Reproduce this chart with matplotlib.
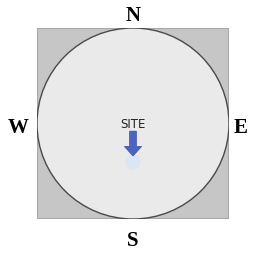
import matplotlib
matplotlib.use("Agg")
import matplotlib.pyplot as plt
from matplotlib.patches import Circle, Rectangle, FancyArrow
import numpy as np

labels = ["N", "E", "S", "W"]
label_x = [0.0, 1.12, 0.0, -1.20]
label_y = [1.13, -0.05, -1.23, -0.05]
site_label = "SITE"
arrow_direction_deg = 270  # arrow pointing south
arrow_length = 0.26

fig = plt.figure(figsize=(2.54, 2.57), dpi=100)
ax = fig.add_axes([37/254, 38/257, 192/254, 191/257])
ax.set_xlim(-1, 1)
ax.set_ylim(-1, 1)
ax.axis("off")

ax.add_patch(Rectangle((-1, -1), 2, 2, facecolor="#c6c6c6", edgecolor="#a8a8a8", lw=1.5, zorder=1))
ax.add_patch(Circle((0, 0), 1.0, facecolor="#eaeaea", edgecolor="#4a4a4a", lw=1.0, zorder=2))

for lab, x, y in zip(labels, label_x, label_y):
    ax.text(x, y, lab, ha="center", va="center",
            fontsize=15, fontweight="bold", family="Liberation Serif", color="black",
            clip_on=False)

ax.text(0, -0.01, site_label, ha="center", va="center", fontsize=8.5,
        family="Liberation Sans Narrow", color="#222222", zorder=4)

dx = arrow_length * np.cos(np.radians(arrow_direction_deg))
dy = arrow_length * np.sin(np.radians(arrow_direction_deg))
ax.add_patch(Circle((0, -0.4), 0.08, facecolor="#d8e6f5", edgecolor="none", alpha=0.8, zorder=3))
ax.add_patch(FancyArrow(0, -0.08, dx, dy, width=0.07, head_width=0.18, head_length=0.1,
                        length_includes_head=True, facecolor="#4a64c0", edgecolor="#3a50a0",
                        lw=0.5, zorder=5))

fig.savefig("out.png", dpi=100)
